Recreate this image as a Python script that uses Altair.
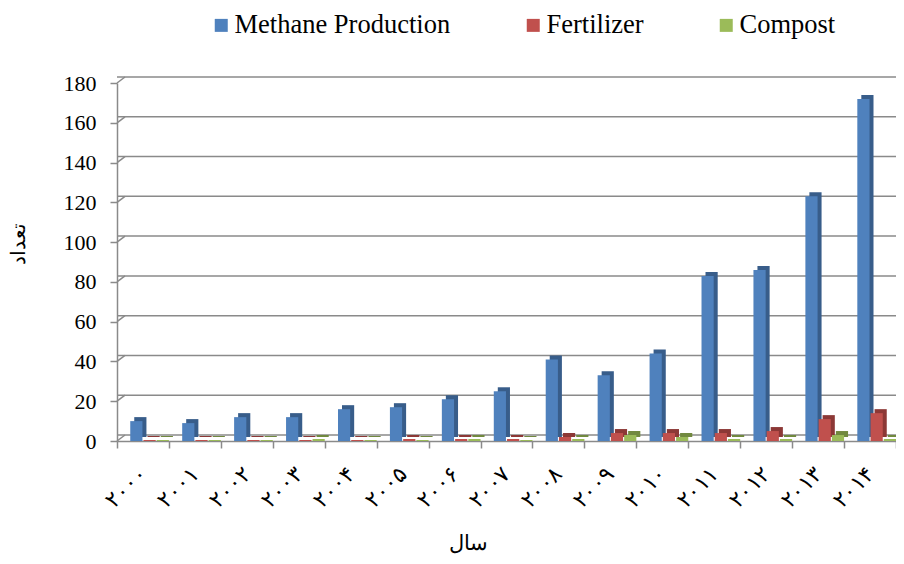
import altair as alt
import pandas as pd

years = ["۲۰۰۰", "۲۰۰۱", "۲۰۰۲", "۲۰۰۳", "۲۰۰۴", "۲۰۰۵", "۲۰۰۶", "۲۰۰۷",
         "۲۰۰۸", "۲۰۰۹", "۲۰۱۰", "۲۰۱۱", "۲۰۱۲", "۲۰۱۳", "۲۰۱۴"]
series = ["Methane Production", "Fertilizer", "Compost"]
methane = [10, 9, 12, 12, 16, 17, 21, 25, 41, 33, 44, 83, 86, 123, 172]
fertilizer = [0.5, 0.5, 0.5, 0.5, 0.5, 1, 1, 1, 2, 4, 4, 4, 5, 11, 14]
compost = [0.5, 0.5, 0.5, 1, 0.5, 0.5, 1, 0.5, 1, 3, 2, 1, 1, 3, 1]
y_ticks = [0, 20, 40, 60, 80, 100, 120, 140, 160, 180]

front_colors = ["#4F81BD", "#C0504D", "#9BBB59"]
side_colors = ["#385D8A", "#8C3836", "#71893F"]

rows = []
for name, vals in zip(series, [methane, fertilizer, compost]):
    for y, v in zip(years, vals):
        rows.append({"year": y, "series": name, "value": v})
df = pd.DataFrame(rows)
grid_df = pd.DataFrame({"value": y_ticks})

SERIF = "Liberation Serif"
GRAY = "#8A8A8A"
W, H = 779, 358
BAND = W / len(years)

x_enc = alt.X("year:N", sort=years,
              scale=alt.Scale(paddingInner=0, paddingOuter=0),
              axis=alt.Axis(title="سال", labelAngle=-45, labelAlign="right",
                            labelBaseline="middle", labelFont=SERIF,
                            labelFontSize=22, labelColor="#000",
                            labelPadding=22, tickBand="extent", tickSize=7,
                            tickColor=GRAY, tickWidth=1.5, domainColor=GRAY,
                            domainWidth=1.5, titleFont=SERIF,
                            titleFontSize=21, titleFontWeight="normal",
                            titleColor="#000", titleX=351, titleY=102,
                            titleBaseline="middle", titleAlign="center",
                            grid=False))
y_enc = alt.Y("value:Q", scale=alt.Scale(domain=[0, 180]),
              axis=alt.Axis(title="تعداد", values=y_ticks, labelFont=SERIF,
                            labelFontSize=22, labelColor="#000",
                            labelPadding=14, tickSize=7, tickColor=GRAY,
                            tickWidth=1.5, domainColor=GRAY, domainWidth=1.5,
                            grid=False, titleFont=SERIF, titleFontSize=20,
                            titleFontWeight="normal", titleColor="#000",
                            titleAngle=270, titleX=-99, titleY=160,
                            titleAlign="center", titleBaseline="middle"))


def xoff(shift):
    return alt.XOffset("series:N",
                       scale=alt.Scale(domain=[""] + series,
                                       range=[shift, BAND + shift],
                                       paddingInner=0.08, paddingOuter=0))


grid = alt.Chart(grid_df).mark_rule(color=GRAY, strokeWidth=1.5,
                                    xOffset=8, x2Offset=8,
                                    yOffset=-6, y2Offset=-6).encode(
    y=y_enc
)
connectors = alt.Chart(grid_df).mark_rule(color=GRAY, strokeWidth=1.5,
                                          y2Offset=-6).encode(
    x=alt.value(0), x2=alt.value(8),
    y=y_enc, y2="value:Q"
)

side = alt.Chart(df).mark_bar(yOffset=-4, y2Offset=-4).encode(
    x=x_enc, y=y_enc, xOffset=xoff(4),
    color=alt.Color("series:N", sort=series,
                    scale=alt.Scale(domain=series, range=side_colors),
                    legend=None)
)
front = alt.Chart(df).mark_bar().encode(
    x=x_enc, y=y_enc, xOffset=xoff(0),
    color=alt.Color("series:N", sort=series,
                    scale=alt.Scale(domain=series, range=front_colors),
                    legend=alt.Legend(title=None, orient="none",
                                      direction="horizontal",
                                      legendX=91, legendY=-71,
                                      symbolType="square", symbolSize=169,
                                      symbolStrokeWidth=0, labelLimit=500,
                                      labelFont=SERIF, labelFontSize=26.5,
                                      labelColor="#000", labelOffset=0,
                                      columnPadding=69, padding=0))
)

chart = alt.layer(grid, connectors, side, front).resolve_scale(
    color="independent", xOffset="independent"
).properties(
    width=W, height=H, background="white",
    autosize=alt.AutoSizeParams(type="none"),
    padding={"left": 109, "top": 75, "right": 0, "bottom": 115}
).configure_view(stroke=None)

chart.save("out.html", embed_options={"renderer": "svg", "actions": False})
